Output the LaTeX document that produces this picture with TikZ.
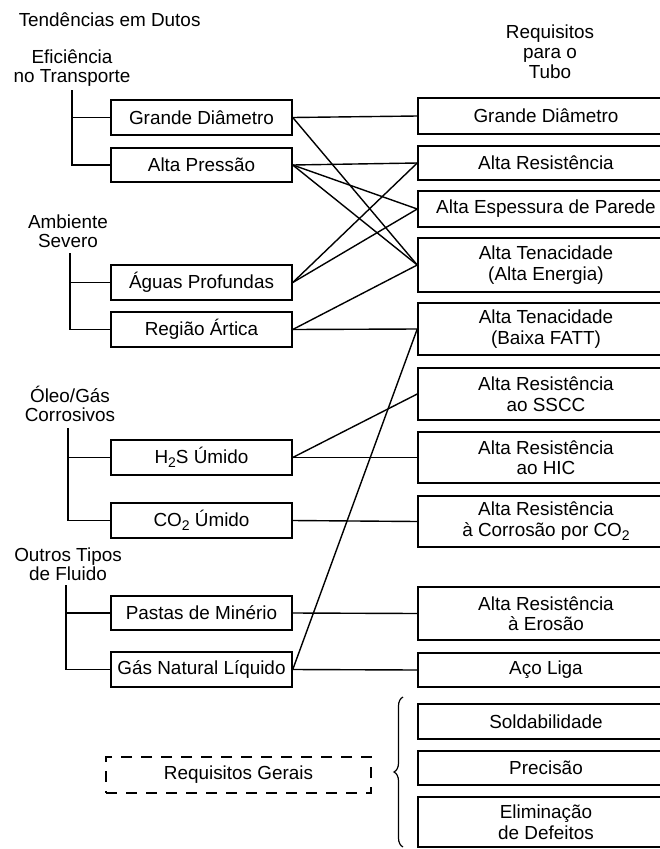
\documentclass[tikz,border=0pt]{standalone}
\usepackage{fontspec}
\setmainfont{Liberation Sans}
\usetikzlibrary{decorations.pathreplacing}
% lowered, smaller "2" for chemical formulas
\newcommand\subtwo{\raisebox{-0.45ex}{\fontsize{14}{14}\selectfont 2}}
\begin{document}
\begin{tikzpicture}[x=1pt,y=-1pt, line width=1.5pt,
  every node/.style={font=\fontsize{18.9}{20.5}\selectfont, inner sep=0pt},
  trend/.style={draw, minimum width=181pt, minimum height=35pt},
  req/.style={draw, minimum width=256pt, align=center},
  general/.style={draw, dashed, dash pattern=on 11pt off 9pt, minimum width=265pt, minimum height=36pt},
  group/.style={align=center, anchor=base, font=\fontsize{18.9}{19}\selectfont},
  link/.style={line width=1.4pt}]

\useasboundingbox[fill=white] (0,0) rectangle (660,849);

% headings (anchor=base sits on the last line)
\node[anchor=base west] (hdL) at (18,26) {Tendências em Dutos};
\node[group, font=\fontsize{18.9}{20}\selectfont] (hdR) at (550,78) {Requisitos\\para o\\Tubo};

% group labels on the left
\node[group] (g1) at (72,82) {Eficiência\\no Transporte};
\node[group] (g2) at (68,247) {Ambiente\\Severo};
\node[group] (g3) at (70,421) {Óleo/Gás\\Corrosivos};
\node[group] (g4) at (68,580) {Outros Tipos\\de Fluido};

% trends (left column)
\node[trend] (lGD)  at (201.5,117.5) {Grande Diâmetro};
\node[trend, minimum height=34pt] (lAP)  at (201.5,165) {Alta Pressão};
\node[trend] (lAG)  at (201.5,282.5) {Águas Profundas};
\node[trend] (lRA)  at (201.5,329.5) {Região Ártica};
\node[trend] (lH2S) at (201.5,457.5) {H\subtwo S Úmido};
\node[trend] (lCO2) at (201.5,520.5) {CO\subtwo\ Úmido};
\node[trend, minimum height=34pt] (lPM)  at (201.5,613) {Pastas de Minério};
\node[trend] (lGN)  at (201.5,669.5) {Gás Natural Líquido};

% general requirements
\node[general] (gen) at (238.5,775) {Requisitos Gerais};

% requirements (right column)
\node[req, minimum height=36pt] (rGD)   at (546,116)   {Grande Diâmetro};
\node[req, minimum height=34pt] (rAR)   at (546,163)   {Alta Resistência};
\node[req, minimum height=36pt] (rAE)   at (546,209)   {Alta Espessura de Parede};
\node[req, minimum height=54pt] (rAT1)  at (546,265)   {Alta Tenacidade\\(Alta Energia)};
\node[req, minimum height=52pt] (rAT2)  at (546,329)   {Alta Tenacidade\\(Baixa FATT)};
\node[req, minimum height=52pt] (rSSCC) at (546,394)   {Alta Resistência\\ao SSCC};
\node[req, minimum height=51pt] (rHIC)  at (546,457.5) {Alta Resistência\\ao HIC};
\node[req, minimum height=51pt] (rCO2)  at (546,521.5) {Alta Resistência\\à Corrosão por CO\subtwo};
\node[req, minimum height=53pt] (rEro)  at (546,613.5) {Alta Resistência\\à Erosão};
\node[req, minimum height=34pt] (rAco)  at (546,670)   {Aço Liga};
\node[req, minimum height=35pt] (rSold) at (546,721.5) {Soldabilidade};
\node[req, minimum height=34pt] (rPrec) at (546,768)   {Precisão};
\node[req, minimum height=50pt] (rElim) at (546,822)   {Eliminação\\de Defeitos};

% trunk lines of each group
\coordinate (t1) at (72,90);
\coordinate (t2) at (70,253);
\coordinate (t3) at (68,428);
\coordinate (t4) at (66,585);
\draw (t1) |- (lAP.west);  \draw (t1 |- lGD.west) -- (lGD.west);
\draw (t2) |- (lRA.west);  \draw (t2 |- lAG.west) -- (lAG.west);
\draw (t3) |- (lCO2.west); \draw (t3 |- lH2S.west) -- (lH2S.west);
\draw (t4) |- (lGN.west);  \draw (t4 |- lPM.west) -- (lPM.west);

% trend -> requirement links
\draw[link] (lGD.east) -- (rGD.west);
\draw[link] (lGD.east) -- (rAT1.west);
\draw[link] (lAP.east) -- (rAR.west);
\draw[link] (lAP.east) -- (rAE.west);
\draw[link] (lAP.east) -- (rAT1.west);
\draw[link] (lAG.east) -- (rAR.west);
\draw[link] (lAG.east) -- (rAE.west);
\draw[link] (lRA.east) -- (rAT1.west);
\draw[link] (lRA.east) -- (rAT2.west);
\draw[link] (lH2S.east) -- (rSSCC.west);
\draw[link] (lH2S.east) -- (rHIC.west);
\draw[link] (lCO2.east) -- (rCO2.west);
\draw[link] (lPM.east) -- (rEro.west);
\draw[link] (lGN.east) -- (rAco.west);
\draw[link] (lGN.east) -- (rAT2.west);

% brace grouping the general requirements
\coordinate (bTop) at (403,697);
\coordinate (bBot) at (403,847);
\draw[line width=1.2pt, decorate, decoration={brace, amplitude=9pt}] (bBot) -- (bTop);
\end{tikzpicture}
\end{document}
